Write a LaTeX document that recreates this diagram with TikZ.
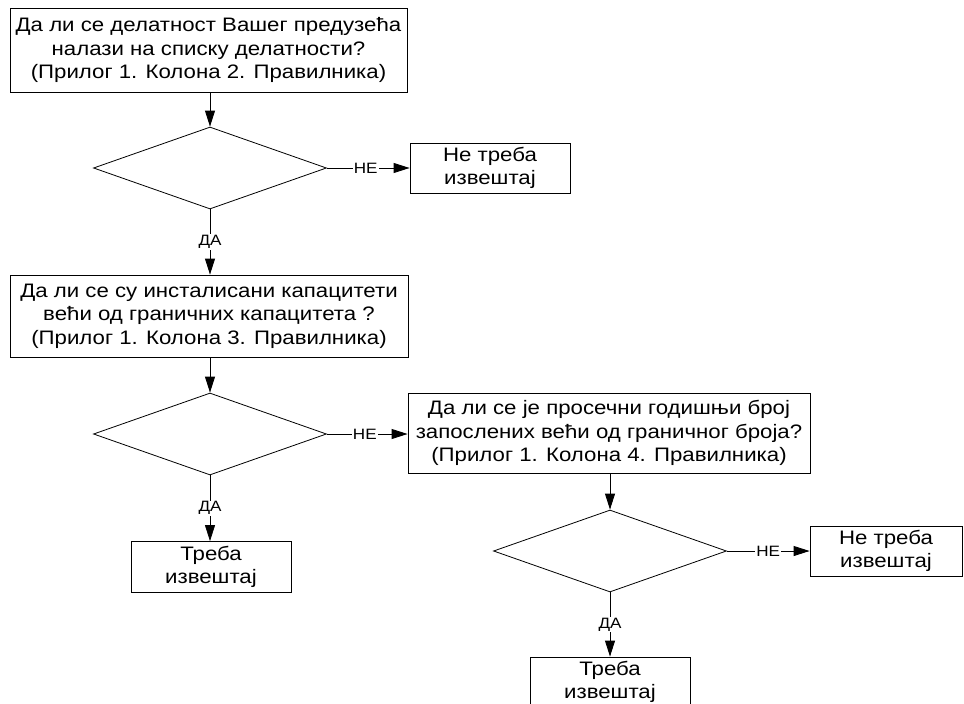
\documentclass[tikz,border=0pt]{standalone}
\usepackage{fontspec}
\setmainfont[FakeStretch=1.14]{Liberation Sans}
\usetikzlibrary{shapes.geometric,arrows.meta}
\begin{document}
\begin{tikzpicture}[x=1pt,y=-1pt,
 box/.style={draw, line width=0.8pt, align=center, inner sep=0pt, font=\fontsize{19.5}{23.5}\selectfont},
 dia/.style={draw, diamond, inner sep=0pt, minimum width=233pt, minimum height=82pt, line width=0.8pt},
 lab/.style={fill=white, inner sep=1pt, font=\fontsize{15}{17}\selectfont},
 arr/.style={-{Triangle[length=16pt,width=10pt]}, line width=0.8pt}]
\useasboundingbox (0,0) rectangle (964,704);
\node[box, minimum width=397pt, minimum height=84pt] (b1) at (208.5,50) {Да ли се делатност Вашег предузећа\\налази на списку делатности?\\(Прилог 1. Колона 2. Правилника)};
\node[dia] (d1) at (210,168) {};
\node[box, minimum width=160pt, minimum height=50pt] (n1) at (490,168) {Не треба\\извештај};
\node[box, minimum width=398pt, minimum height=82pt] (b2) at (209,316) {Да ли се су инсталисани капацитети\\већи од граничних капацитета ?\\(Прилог 1. Колона 3. Правилника)};
\node[dia] (d2) at (210,434) {};
\node[box, minimum width=402pt, minimum height=80pt] (b3) at (609,433) {Да ли се је просечни годишњи број\\запослених већи од граничног броја?\\(Прилог 1. Колона 4. Правилника)};
\node[box, minimum width=160pt, minimum height=51pt] (t1) at (211,567) {Треба\\извештај};
\node[dia] (d3) at (610,551) {};
\node[box, minimum width=152pt, minimum height=50pt] (n2) at (886,551) {Не треба\\извештај};
\node[box, minimum width=160pt, minimum height=50pt] (t2) at (610,682) {Треба\\извештај};
\draw[arr] (b1.south -| d1.north) -- (d1.north);
\draw[arr] (d1.east) -- node[lab, pos=0.47] {НЕ} (n1.west);
\draw[arr] (d1.south) -- node[lab] {ДА} (d1.south |- b2.north);
\draw[arr] (b2.south -| d2.north) -- (d2.north);
\draw[arr] (d2.east) -- node[lab, pos=0.47] {НЕ} (d2.east -| b3.west);
\draw[arr] (d2.south) -- node[lab] {ДА} (d2.south |- t1.north);
\draw[arr] (b3.south -| d3.north) -- (d3.north);
\draw[arr] (d3.east) -- node[lab, pos=0.5] {НЕ} (n2.west);
\draw[arr] (d3.south) -- node[lab] {ДА} (t2.north);
\end{tikzpicture}
\end{document}
